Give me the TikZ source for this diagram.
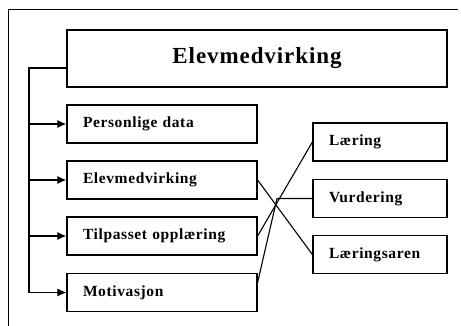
\documentclass[tikz,border=0pt]{standalone}
\usepackage{fontspec}
\setmainfont{Liberation Serif}
\newfontfamily\spaced[LetterSpace=4]{Liberation Serif}
\usetikzlibrary{arrows.meta}

\tikzset{
  box/.style={draw, line width=1.2pt, minimum height=38, inner xsep=16, inner ysep=0,
    text width=158, align=left, font=\spaced\bfseries\fontsize{15.5}{17}\selectfont},
  sbox/.style={box, text width=102},
  tbox/.style={draw, line width=1.2pt, minimum width=380, minimum height=57,
    font=\spaced\bfseries\fontsize{23}{27}\selectfont},
  link/.style={line width=1.1pt},
  arr/.style={line width=1.1pt, -{Latex[length=9pt,width=8pt]}}
}

\begin{document}
\begin{tikzpicture}[x=1pt,y=1pt,yscale=-1,xscale=1]
\useasboundingbox (0,0) rectangle (461,326);

%Shape: Frame
\draw [line width=1pt] (458,10) -- (8,10) -- (8,326) ;

%Shape: Title
\node [tbox] (title) at (257,58.5) {Elevmedvirking};

%Shape: Left boxes
\node [box] (pers) at (162,124) {Personlige data};
\node [box] (elev) at (162,180) {Elevmedvirking};
\node [box] (tilp) at (162,236) {Tilpasset opplæring};
\node [box] (mot)  at (162,292.5) {Motivasjon};

%Shape: Right boxes
\node [sbox] (laer) at (380,142) {Læring};
\node [sbox] (vurd) at (380,198.5) {Vurdering};
\node [sbox] (lsar) at (380,254.5) {Læringsaren};

%Straight Lines: trunk and arrows
\coordinate (bend) at (29,68);
\draw [arr] (bend -| title.west) -- (bend) |- (mot.west) ;
\draw [arr] (bend |- pers.west) -- (pers.west) ;
\draw [arr] (bend |- elev.west) -- (elev.west) ;
\draw [arr] (bend |- tilp.west) -- (tilp.west) ;

%Straight Lines: crossing links
\coordinate (meet) at (277,198.5);
\draw [link] (elev.east) -- (lsar.west) ;
\draw [link] (tilp.east) -- (laer.west) ;
\draw [link] (mot.6) -- (meet) -- (vurd.west) ;

\end{tikzpicture}
\end{document}
